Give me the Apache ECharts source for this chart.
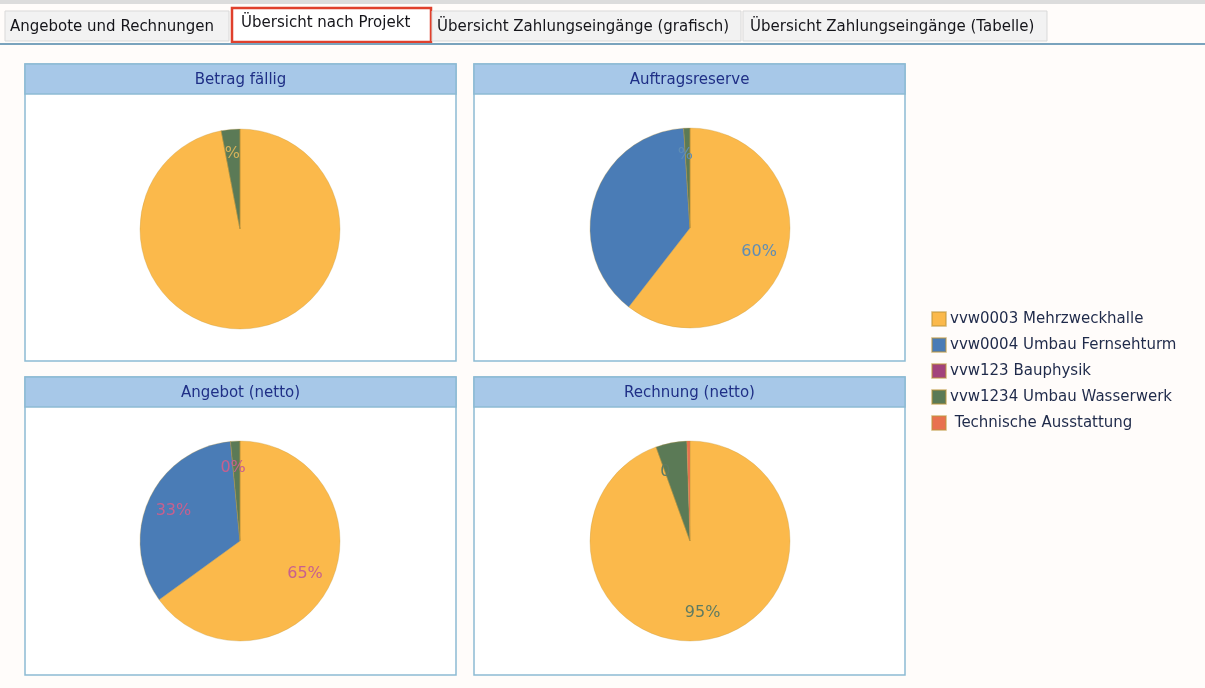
<!DOCTYPE html>
<html>
<head>
<meta charset="utf-8">
<script src="https://cdn.jsdelivr.net/npm/echarts@6/dist/echarts.min.js"></script>
<style>
html,body{margin:0;padding:0;background:#fffcfa;}
#chart{width:1205px;height:688px;}
</style>
</head>
<body>
<div id="chart"></div>
<script>
// ---- data ----
const categories = ['vvw0003 Mehrzweckhalle', 'vvw0004 Umbau Fernsehturm', 'vvw123 Bauphysik', 'vvw1234 Umbau Wasserwerk', ' Technische Ausstattung'];
const colors = ['#fbb94b', '#4a7cb6', '#a2437c', '#5b7a56', '#e8714f'];
const tabLabels = ['Angebote und Rechnungen', 'Übersicht nach Projekt', 'Übersicht Zahlungseingänge (grafisch)', 'Übersicht Zahlungseingänge (Tabelle)'];
const chartTitles = ['Betrag fällig', 'Auftragsreserve', 'Angebot (netto)', 'Rechnung (netto)'];
const betragFaellig = [97, 0, 0, 3, 0];
const auftragsreserve = [60.5, 38.5, 0, 1, 0];
const angebotNetto = [65, 33.5, 0, 1.5, 0];
const rechnungNetto = [94.5, 0, 0, 5, 0.5];
const betragLabels = ['', '', '%', '', ''];
const auftragLabels = ['60%', '', '%', '', ''];
const angebotLabels = ['65%', '33%', '0%', '', ''];
const rechnungLabels = ['95%', '', '0', '', ''];

const chart = echarts.init(document.getElementById('chart'));

const pies = [
  { values: betragFaellig, labels: betragLabels, center: [240, 229], labelColor: '#d6b25a', offset: [6, -3] },
  { values: auftragsreserve, labels: auftragLabels, center: [690, 228], labelColor: '#5f8db5', offset: [0, 0] },
  { values: angebotNetto, labels: angebotLabels, center: [240, 541], labelColor: '#c8608e', offset: [0, 0] },
  { values: rechnungNetto, labels: rechnungLabels, center: [690, 541], labelColor: '#5e7b62', offset: [0, 0] }
];
const panels = [
  { x: 25, y: 64, w: 431, h: 297 },
  { x: 474, y: 64, w: 431, h: 297 },
  { x: 25, y: 377, w: 431, h: 298 },
  { x: 474, y: 377, w: 431, h: 298 }
];
const tabs = [
  { x: 5, w: 224, tx: 10 },
  { x: 232, w: 199, tx: 241 },
  { x: 432, w: 309, tx: 437 },
  { x: 743, w: 304, tx: 750 }
];

const font = 'Tahoma, "DejaVu Sans", sans-serif';
const graphics = [];
graphics.push({ type: 'rect', shape: { x: 0, y: 0, width: 1205, height: 4 }, style: { fill: '#dcdcdc' }, silent: true });
tabs.forEach((t, i) => {
  const sel = i === 1;
  graphics.push({
    type: 'rect',
    shape: sel ? { x: t.x, y: 8, width: t.w, height: 34 } : { x: t.x, y: 11, width: t.w, height: 30 },
    style: { fill: sel ? '#ffffff' : '#f2f2f2', stroke: sel ? '#e0402c' : '#d9d9d9', lineWidth: sel ? 2.5 : 1 },
    silent: true
  });
  graphics.push({
    type: 'text', x: t.tx, y: sel ? 23 : 27,
    style: { text: tabLabels[i], fill: '#15151a', font: '15px ' + font, textVerticalAlign: 'middle' },
    silent: true
  });
});
graphics.push({ type: 'rect', shape: { x: 0, y: 43, width: 1205, height: 2 }, style: { fill: '#7aa3bd' }, silent: true });
panels.forEach((p, i) => {
  graphics.push({ type: 'rect', shape: { x: p.x, y: p.y, width: p.w, height: p.h }, style: { fill: '#ffffff', stroke: '#8dbbd3', lineWidth: 1.5 }, silent: true, z: -1 });
  graphics.push({ type: 'rect', shape: { x: p.x, y: p.y, width: p.w, height: 30 }, style: { fill: '#a7c8e8', stroke: '#8dbbd3', lineWidth: 1.5 }, silent: true, z: -1 });
  graphics.push({
    type: 'text', x: p.x + p.w / 2, y: p.y + 16,
    style: { text: chartTitles[i], fill: '#1f2f86', font: '15px ' + font, textAlign: 'center', textVerticalAlign: 'middle' },
    silent: true, z: -1
  });
});

const series = [];
pies.forEach((p) => {
  series.push({
    type: 'pie', center: p.center, radius: [0, 100], startAngle: 90, clockwise: true,
    silent: true, animation: false, z: 2,
    label: { show: false }, labelLine: { show: false },
    itemStyle: { borderColor: 'rgba(190,150,60,0.5)', borderWidth: 0.6 },
    data: categories.map((c, j) => ({ name: c, value: p.values[j], itemStyle: { color: colors[j] } }))
  });
  series.push({
    type: 'pie', center: p.center, radius: [40, 100], startAngle: 90, clockwise: true,
    silent: true, animation: false, z: 3, legendHoverLink: false,
    itemStyle: { color: 'rgba(0,0,0,0)', borderWidth: 0 },
    label: {
      show: true, position: 'inside', color: p.labelColor,
      fontFamily: font, fontSize: 16, offset: p.offset,
      formatter: (prm) => p.labels[prm.dataIndex]
    },
    labelLine: { show: false },
    data: categories.map((c, j) => ({ name: c, value: p.values[j] }))
  });
});

chart.setOption({
  backgroundColor: '#fffcfa',
  animation: false,
  color: colors,
  legend: {
    orient: 'vertical', left: 926, top: 306,
    itemWidth: 14, itemHeight: 14, itemGap: 10,
    icon: 'rect', selectedMode: false,
    textStyle: { fontFamily: font, fontSize: 15, color: '#1f2a4a', padding: [0, 0, 0, -1] },
    data: categories.map((c, j) => ({ name: c, itemStyle: { color: colors[j] } }))
  },
  graphic: graphics,
  series: series
});
</script>
</body>
</html>
